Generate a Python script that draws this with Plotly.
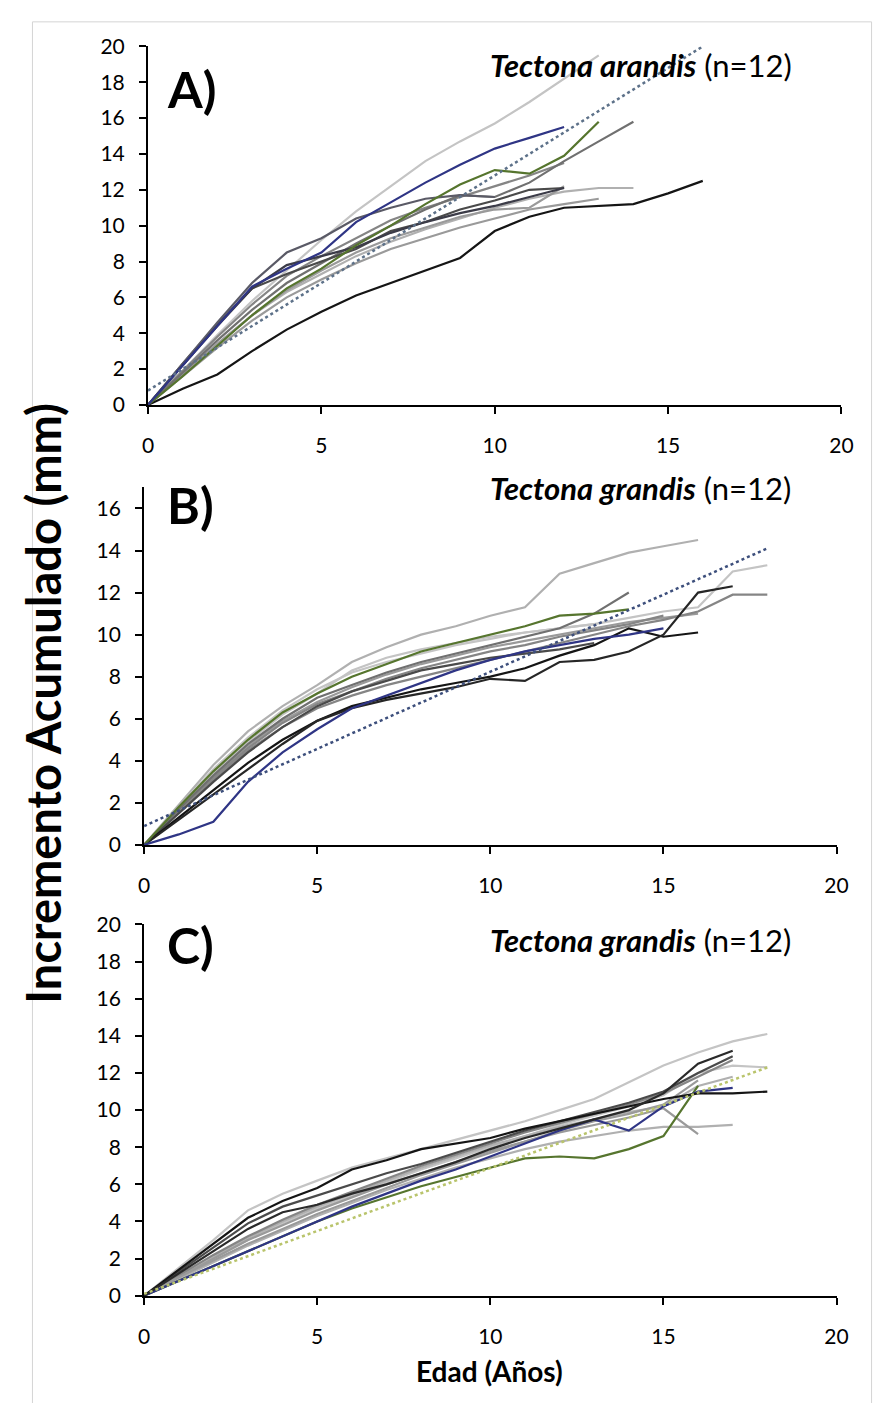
import plotly.graph_objects as go

W, H = 875, 1403

# ---------------- data ----------------
# Panel A (ages 0..n)
A_light = [0, 1.9, 3.9, 5.8, 7.5, 9.2, 10.8, 12.2, 13.6, 14.7, 15.7, 16.9, 18.2, 19.5]
A_navy = [0, 2.2, 4.4, 6.6, 7.6, 8.5, 10.2, 11.3, 12.4, 13.4, 14.3, 14.9, 15.5]
A_black = [0, 0.9, 1.7, 3.0, 4.2, 5.2, 6.1, 6.8, 7.5, 8.2, 9.7, 10.5, 11.0, 11.1, 11.2, 11.8, 12.5]
A_olive = [0, 1.6, 3.3, 5.0, 6.5, 7.6, 8.9, 10.0, 11.2, 12.3, 13.1, 12.9, 13.9, 15.8]
A_gray1 = [0, 1.8, 3.6, 5.3, 6.8, 7.9, 9.0, 10.0, 10.9, 11.7, 11.6, 12.4, 13.6, 14.7, 15.8]
A_gray2 = [0, 1.9, 3.8, 5.6, 7.2, 8.3, 9.3, 10.3, 11.0, 11.6, 12.2, 12.8, 13.5]
A_dark1 = [0, 2.3, 4.5, 6.5, 7.3, 8.0, 8.7, 9.7, 10.2, 10.9, 11.4, 12.0, 12.1]
A_light2 = [0, 1.7, 3.4, 5.0, 6.3, 7.3, 8.3, 9.1, 9.8, 10.4, 11.0, 11.5, 11.9, 12.1, 12.1]
A_gray3 = [0, 1.6, 3.2, 4.7, 6.0, 7.0, 7.9, 8.7, 9.3, 9.9, 10.4, 10.9, 11.2, 11.5]
A_gray4 = [0, 1.7, 3.4, 5.0, 6.4, 7.5, 8.5, 9.3, 9.9, 10.5, 10.9, 11.0, 12.2]
A_dark2 = [0, 2.3, 4.6, 6.8, 8.5, 9.3, 10.4, 11.0, 11.5, 11.7, 11.6]
A_dark3 = [0, 2.2, 4.4, 6.5, 7.8, 8.3, 8.8, 9.6, 10.2, 10.7, 11.1, 11.6, 12.1]
A_trend_x = [0, 16]
A_trend_y = [0.8, 20.0]

# Panel B
B_light = [0, 1.9, 3.8, 5.4, 6.6, 7.6, 8.7, 9.4, 10.0, 10.4, 10.9, 11.3, 12.9, 13.4, 13.9, 14.2, 14.5]
B_light2 = [0, 1.7, 3.4, 4.9, 6.2, 7.2, 8.3, 8.9, 9.3, 9.6, 9.9, 10.1, 10.3, 10.5, 10.8, 11.1, 11.3, 13.0, 13.3]
B_gray1 = [0, 1.6, 3.1, 4.5, 5.6, 6.5, 7.1, 7.6, 8.0, 8.4, 8.8, 9.2, 9.6, 10.0, 10.4, 10.7, 11.1, 11.9, 11.9]
B_black = [0, 1.2, 2.4, 3.6, 4.8, 5.9, 6.5, 6.9, 7.2, 7.5, 7.9, 7.8, 8.7, 8.8, 9.2, 10.0, 12.0, 12.3]
B_dark = [0, 1.3, 2.6, 3.9, 5.0, 5.9, 6.6, 7.0, 7.4, 7.7, 8.0, 8.4, 9.0, 9.5, 10.3, 9.9, 10.1]
B_navy = [0, 0.5, 1.1, 3.0, 4.4, 5.5, 6.5, 7.1, 7.7, 8.3, 8.8, 9.2, 9.5, 9.8, 10.0, 10.3]
B_olive = [0, 1.8, 3.5, 5.0, 6.3, 7.2, 8.0, 8.6, 9.2, 9.6, 10.0, 10.4, 10.9, 11.0, 11.2]
B_gray2 = [0, 1.7, 3.3, 4.8, 6.0, 7.0, 7.6, 8.2, 8.7, 9.1, 9.5, 9.9, 10.3, 11.0, 12.0]
B_gray3 = [0, 1.7, 3.3, 4.7, 5.9, 6.8, 7.5, 8.1, 8.6, 9.0, 9.4, 9.7, 10.0, 10.3, 10.6, 10.8, 11.0]
B_light3 = [0, 1.8, 3.6, 5.1, 6.4, 7.4, 8.2, 8.7, 9.1, 9.5, 9.8, 10.1, 10.3, 10.5]
B_dark2 = [0, 1.5, 3.0, 4.4, 5.6, 6.6, 7.3, 7.8, 8.3, 8.6, 8.9, 9.1, 9.3, 9.6]
B_gray4 = [0, 1.6, 3.2, 4.6, 5.8, 6.7, 7.3, 7.9, 8.4, 8.8, 9.2, 9.5, 9.9, 10.2, 10.5, 10.9]
B_trend_x = [0, 18]
B_trend_y = [0.9, 14.1]

# Panel C
C_light = [0, 1.5, 3.0, 4.6, 5.5, 6.2, 6.9, 7.4, 7.9, 8.4, 8.9, 9.4, 10.0, 10.6, 11.5, 12.4, 13.1, 13.7, 14.1]
C_black = [0, 1.4, 2.8, 4.2, 5.1, 5.8, 6.8, 7.3, 7.9, 8.2, 8.5, 9.0, 9.4, 9.8, 10.2, 10.6, 10.9, 10.9, 11.0]
C_dark = [0, 1.2, 2.4, 3.6, 4.5, 4.9, 5.5, 6.0, 6.6, 7.2, 7.9, 8.5, 9.0, 9.5, 10.0, 10.9, 12.5, 13.2]
C_navy = [0, 0.8, 1.6, 2.4, 3.2, 4.0, 4.8, 5.5, 6.2, 6.8, 7.5, 8.2, 8.9, 9.5, 8.9, 10.2, 11.0, 11.2]
C_olive = [0, 0.8, 1.6, 2.4, 3.2, 4.0, 4.7, 5.3, 5.9, 6.4, 6.9, 7.4, 7.5, 7.4, 7.9, 8.6, 11.3]
C_light2 = [0, 0.9, 1.8, 2.7, 3.5, 4.3, 5.0, 5.7, 6.3, 6.9, 7.4, 7.9, 8.3, 8.6, 8.9, 9.1, 9.1, 9.2]
C_gray1 = [0, 1.0, 2.0, 3.0, 3.8, 4.6, 5.3, 6.0, 6.6, 7.2, 7.8, 8.3, 8.8, 9.2, 9.6, 10.1, 8.7]
C_light3 = [0, 1.0, 2.0, 3.0, 3.9, 4.7, 5.4, 6.1, 6.8, 7.4, 8.0, 8.6, 9.2, 9.7, 10.2, 10.8, 12.0, 12.4, 12.3]
C_gray2 = [0, 1.1, 2.2, 3.2, 4.1, 4.9, 5.6, 6.3, 7.0, 7.6, 8.2, 8.8, 9.3, 9.8, 10.3, 10.9, 11.8, 12.7]
C_dark2 = [0, 1.3, 2.6, 3.9, 4.8, 5.4, 6.0, 6.6, 7.1, 7.7, 8.3, 8.9, 9.4, 9.9, 10.4, 11.0, 12.0, 12.9]
C_gray3 = [0, 1.0, 1.9, 2.8, 3.6, 4.4, 5.1, 5.8, 6.5, 7.1, 7.7, 8.3, 8.9, 9.4, 9.8, 10.3, 11.6]
C_light4 = [0, 1.1, 2.1, 3.1, 4.0, 4.8, 5.5, 6.2, 6.9, 7.5, 8.1, 8.6, 9.1, 9.5, 9.9, 10.2, 11.3, 11.8]
C_trend_x = [0, 18]
C_trend_y = [0.1, 12.3]

x_ticks = [0, 5, 10, 15, 20]
panel_labels = ["A)", "B)", "C)"]
species_texts = ["<b><i>Tectona arandis</i></b> (n=12)",
                 "<b><i>Tectona grandis</i></b> (n=12)",
                 "<b><i>Tectona grandis</i></b> (n=12)"]
y_title = "Incremento Acumulado (mm)"
x_title = "Edad (Años)"

# ---------------- styles ----------------
LIGHT = "#c4c4c4"
LIGHT2 = "#b0b0b0"
GRAY1 = "#9a9a9a"
GRAY2 = "#858585"
GRAY3 = "#707070"
DARK = "#4a4a4a"
DARK2 = "#5a5a66"
BLACK = "#151515"
NAVY = "#2f3585"
OLIVE = "#56752e"

panels = [
    dict(series=[(A_light, LIGHT), (A_light2, LIGHT2), (A_gray3, GRAY1), (A_gray4, GRAY1),
                 (A_gray2, GRAY2), (A_gray1, GRAY3), (A_dark1, DARK), (A_dark2, DARK2),
                 (A_dark3, "#3c3c48"), (A_black, BLACK), (A_olive, OLIVE), (A_navy, NAVY)],
         trend=(A_trend_x, A_trend_y, "#5d7189"), yr=[0, 20], yt=list(range(0, 21, 2)),
         px=(145, 853), py=(33, 398)),
    dict(series=[(B_light, LIGHT2), (B_light2, LIGHT), (B_light3, LIGHT), (B_gray3, GRAY1),
                 (B_gray4, GRAY2), (B_gray1, GRAY2), (B_gray2, GRAY3), (B_dark2, DARK),
                 (B_dark, BLACK), (B_black, "#262626"), (B_olive, OLIVE), (B_navy, NAVY)],
         trend=(B_trend_x, B_trend_y, "#3d4f7c"), yr=[0, 17], yt=list(range(0, 17, 2)),
         px=(141, 848), py=(482, 846)),
    dict(series=[(C_light, LIGHT), (C_light2, LIGHT2), (C_light3, LIGHT), (C_light4, LIGHT2),
                 (C_gray1, GRAY1), (C_gray2, GRAY2), (C_gray3, GRAY1), (C_dark2, DARK),
                 (C_olive, OLIVE), (C_navy, NAVY), (C_black, BLACK), (C_dark, "#2a2a2a")],
         trend=(C_trend_x, C_trend_y, "#b9c46c"), yr=[0, 20], yt=list(range(0, 21, 2)),
         px=(141, 848), py=(927, 1305)),
]

FONT = "Lato, 'Open Sans', sans-serif"
fig = go.Figure()
layout = dict(width=W, height=H, margin=dict(l=0, r=0, t=0, b=0),
              paper_bgcolor="white", plot_bgcolor="white", showlegend=False,
              font=dict(family=FONT, color="black"))
annotations = []

for i, p in enumerate(panels):
    n = "" if i == 0 else str(i + 1)
    xa, ya = "x" + n, "y" + n
    for vals, col in p["series"]:
        fig.add_trace(go.Scatter(x=list(range(len(vals))), y=vals, mode="lines",
                                 line=dict(color=col, width=2.2), xaxis=xa, yaxis=ya,
                                 hoverinfo="skip"))
    tx, ty, tc = p["trend"]
    fig.add_trace(go.Scatter(x=tx, y=ty, mode="lines",
                             line=dict(color=tc, width=2.5, dash="dot"),
                             xaxis=xa, yaxis=ya, hoverinfo="skip"))
    x0, x1 = p["px"]
    y0, y1 = p["py"]
    axis_common = dict(showline=True, linecolor="black", linewidth=2, ticks="outside",
                       tickcolor="black", tickwidth=2, ticklen=7, showgrid=False,
                       zeroline=False, tickfont=dict(family=FONT, size=21, color="black"))
    layout["xaxis" + n] = dict(domain=[x0 / W, x1 / W], range=[0, 20], tickvals=x_ticks,
                               anchor=ya, ticklabelstandoff=14, **axis_common)
    layout["yaxis" + n] = dict(domain=[1 - y1 / H, 1 - y0 / H], range=p["yr"], tickvals=p["yt"],
                               anchor=xa, ticklabelstandoff=10, **axis_common)
    annotations.append(dict(text="<b>" + panel_labels[i] + "</b>", xref="paper", yref="paper",
                            x=162 / W, y=1 - ([76, 500, 948][i]) / H, xanchor="left",
                            yanchor="middle", showarrow=False,
                            font=dict(family=FONT, size=50, color="black")))
    annotations.append(dict(text=species_texts[i], xref="paper", yref="paper",
                            x=492 / W, y=1 - ([52, 483, 943][i]) / H, xanchor="left",
                            yanchor="middle", showarrow=False,
                            font=dict(family=FONT, size=31, color="black")))

annotations.append(dict(text="<b>" + y_title + "</b>", xref="paper", yref="paper",
                        x=38 / W, y=1 - 702 / H, textangle=-90, showarrow=False,
                        xanchor="center", yanchor="middle",
                        font=dict(family=FONT, size=47, color="black")))
annotations.append(dict(text="<b>" + x_title + "</b>", xref="paper", yref="paper",
                        x=494 / W, y=1 - 1382 / H, showarrow=False,
                        xanchor="center", yanchor="middle",
                        font=dict(family=FONT, size=28, color="black")))
layout["annotations"] = annotations
layout["shapes"] = [dict(type="rect", xref="paper", yref="paper",
                         x0=27 / W, x1=1.01, y0=-0.01, y1=1 - 8 / H,
                         line=dict(color="#d4d4d4", width=1))]
fig.update_layout(**layout)
fig.write_html(
    "out.html",
    config={"displayModeBar": False},
    post_script=(
        "document.documentElement.style.overflow='hidden';"
        "document.body.style.margin='0';document.body.style.padding='0';"
        "document.body.style.overflow='hidden';"
        "var gd=document.getElementById('{plot_id}');"
        "gd.style.position='fixed';gd.style.left='0px';gd.style.top='0px';"
    ),
)
